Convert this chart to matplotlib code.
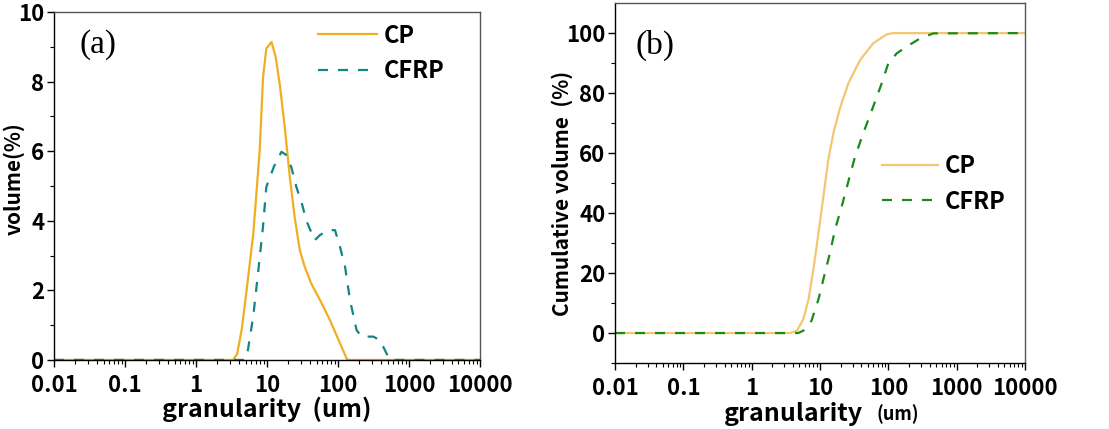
import matplotlib
matplotlib.use('Agg')
import matplotlib.pyplot as plt

plt.rcParams['font.family'] = ['Noto Sans CJK SC', 'DejaVu Sans']
W = 'heavy'

# (a) volume distribution
cp_a_x = [0.01, 3.34, 3.8, 4.4, 5.1, 6.4, 7.9, 8.8, 9.8, 11.6, 13.3, 15.2, 17.8, 21, 24.6,
          29, 34, 42, 56, 77, 107, 132, 138, 10000]
cp_a_y = [0, 0, 0.17, 0.86, 1.9, 3.6, 6.0, 8.1, 8.95, 9.14, 8.7, 7.9, 6.7, 5.26, 4.1,
          3.16, 2.68, 2.2, 1.72, 1.15, 0.48, 0.05, 0, 0]
cfrp_a_x = [0.01, 4.9, 5.4, 6.4, 7.5, 8.8, 9.8, 12.5, 16, 18.5, 22, 26, 31, 36, 47, 56,
            73, 91, 107, 126, 148, 183, 214, 315, 390, 484, 536, 10000]
cfrp_a_y = [0, 0, 0.29, 1.24, 2.5, 3.83, 4.97, 5.55, 5.98, 5.9, 5.55, 4.97, 4.5, 4.0, 3.44,
            3.59, 3.73, 3.73, 3.25, 2.68, 1.72, 0.86, 0.67, 0.67, 0.57, 0.19, 0, 0]

# (b) cumulative volume
cp_b_x = [0.01, 3.64, 4.6, 5.7, 6.8, 8.0, 9.5, 11.2, 13.2, 15.7, 19.6, 26, 38.5, 60, 94.6,
          118, 10000]
cp_b_y = [0, 0, 0.8, 4.65, 11.3, 21.3, 33.4, 45.6, 57.8, 66.7, 75, 83.3, 91, 96.6, 99.6,
          100, 100]
cfrp_b_x = [0.01, 4.8, 5.7, 7.5, 9.5, 11.2, 14, 16.6, 20.8, 26, 32.6, 43, 60, 80, 100,
            132, 185, 290, 455, 10000]
cfrp_b_y = [0, 0, 0.8, 4.1, 11.3, 18, 26.8, 34.6, 42.3, 50.6, 58.9, 66.7, 75.5, 83.3, 90,
            93.2, 95.5, 98.2, 99.9, 100]

xticks = [0.01, 0.1, 1, 10, 100, 1000, 10000]
xticklabels = ['0.01', '0.1', '1', '10', '100', '1000', '10000']

fig = plt.figure(figsize=(11.09, 4.29), dpi=100)
ax1 = fig.add_axes([0.0487, 0.161, 0.384, 0.811])
ax2 = fig.add_axes([0.5546, 0.1538, 0.3697, 0.839])

ax1.plot(cp_a_x, cp_a_y, color='#F0AE22', lw=1.6, label='CP')
ax1.plot(cfrp_a_x, cfrp_a_y, color='#138582', lw=1.6, ls=(0, (4.5, 4.5)), label='CFRP')
ax2.plot(cp_b_x, cp_b_y, color='#F5C672', lw=1.6, label='CP')
ax2.plot(cfrp_b_x, cfrp_b_y, color='#1B8A1B', lw=1.6, ls=(0, (4.5, 4.5)), label='CFRP')

ax1.set_ylim(0, 10)
ax1.set_yticks([0, 2, 4, 6, 8, 10])
ax1.set_yticks([1, 3, 5, 7, 9], minor=True)
ax2.set_ylim(-10, 110)
ax2.set_yticks([0, 20, 40, 60, 80, 100])
ax2.set_yticks([-10, 10, 30, 50, 70, 90], minor=True)

for ax in (ax1, ax2):
    ax.set_xscale('log')
    ax.set_xlim(0.01, 10000)
    ax.set_xticks(xticks)
    ax.set_xticklabels(xticklabels)
    ax.tick_params(which='major', direction='out', length=5, width=1, labelsize=16, pad=2)
    ax.tick_params(axis='x', which='major', pad=5)
    ax.tick_params(which='minor', direction='out', length=3, width=0.8)
    for lab in ax.get_xticklabels() + ax.get_yticklabels():
        lab.set_fontweight(W)
    for s in ax.spines.values():
        s.set_linewidth(1.0)
    ax.spines['top'].set_color('#555555')
    ax.spines['right'].set_color('#555555')

ax1.set_xlabel('granularity  (um)', fontsize=18, fontweight=W, labelpad=0)
ax1.set_ylabel('volume(%)', fontsize=15, fontweight=W)
ax1.yaxis.set_label_coords(-0.068, 0.52)

ax2.text(0.434, -0.142, 'granularity', transform=ax2.transAxes, fontsize=18,
         fontweight=W, ha='center', va='center')
ax2.text(0.69, -0.142, '(um)', transform=ax2.transAxes, fontsize=13,
         fontweight=W, ha='center', va='center')
ax2.set_ylabel('Cumulative volume  (%)', fontsize=15, fontweight=W)
ax2.yaxis.set_label_coords(-0.103, 0.47)

ax1.text(0.103, 0.905, '(a)', transform=ax1.transAxes, fontsize=24,
         family='Liberation Serif', ha='center', va='center')
ax2.text(0.098, 0.883, '(b)', transform=ax2.transAxes, fontsize=24,
         family='Liberation Serif', ha='center', va='center')

ax1.legend(loc='upper left', bbox_to_anchor=(0.57, 1.028), frameon=False,
           prop={'size': 17, 'weight': W}, handlelength=2.5,
           handletextpad=0.3, labelspacing=0.5)
ax2.legend(loc='upper left', bbox_to_anchor=(0.60, 0.64), frameon=False,
           prop={'size': 17, 'weight': W}, handlelength=2.35,
           handletextpad=0.3, labelspacing=0.5)

fig.savefig('out.png', dpi=100)
